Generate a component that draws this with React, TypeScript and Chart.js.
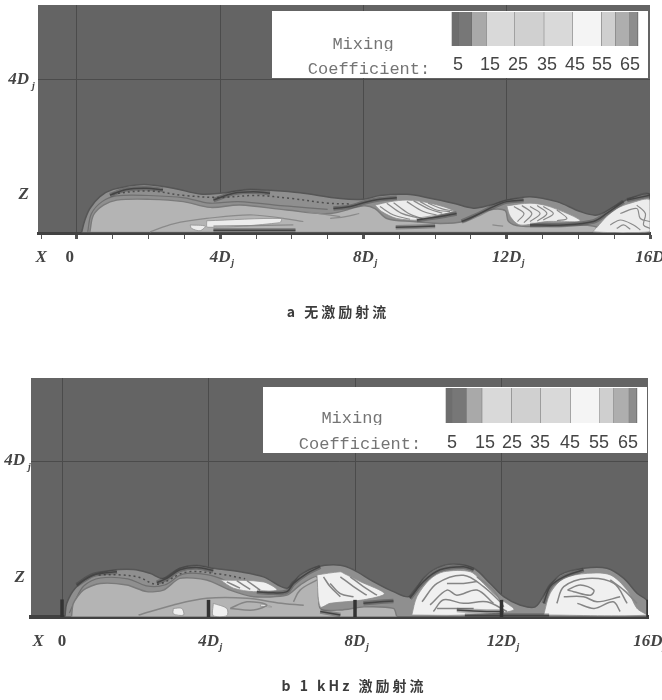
import React, { useEffect, useRef } from "react";
import { Chart, registerables } from "chart.js";

Chart.register(...registerables);

type Pt = [number, number];

// ---------- shared ----------
const legendLevels = ["5", "15", "25", "35", "45", "55", "65"];
const legendColors = ["#6e6e6e", "#777777", "#a9a9a9", "#d9d9d9", "#d0d0d0", "#d9d9d9", "#f4f4f4", "#cfcfcf", "#aeaeae", "#8d8d8d"];
const legendTitle = ["Mixing", "Coefficient:"];
const labeledTicks = [4, 8, 12, 16];
const gridAt = [0, 4, 8, 12];
const yTickValues = [1, 4];

// ---------- panel a ----------
const aCaption = "a 无激励射流";
const aTickValues = [-1, -0.2, 0, 1, 2, 3, 4, 5, 6, 7, 8, 9, 10, 11, 12, 13, 14, 15, 16];
const aEnvelope: Pt[] = [[0.13,0.02],[0.22,0.34],[0.36,0.64],[0.64,0.95],[1.01,1.14],[1.85,1.27],[2.69,1.17],[3.44,1.02],[3.99,1.04],[4.74,1.14],[5.48,1.11],[6.23,1.05],[7.35,0.9],[8,0.88],[8.46,0.98],[9.21,1.01],[9.86,0.91],[10.51,0.78],[11.07,0.65],[11.54,0.73],[12,0.86],[12.65,0.95],[13.4,0.82],[14.05,0.56],[14.52,0.47],[14.99,0.69],[15.45,0.91],[16,1],[16,0.02]];
const aCore: Pt[] = [[0.36,0.03],[0.46,0.47],[0.74,0.73],[1.11,0.86],[2.04,0.88],[2.97,0.82],[3.72,0.67],[4.55,0.73],[5.86,0.6],[7.07,0.51],[8,0.71],[8.32,0.64],[8.65,0.38],[9.39,0.3],[10.14,0.25],[10.79,0.3],[11.26,0.51],[11.63,0.62],[11.96,0.58],[12.05,0.3],[12.37,0.18],[13.4,0.18],[14.14,0.21],[14.52,0.15],[14.6,0.03]];
const aInnerEdge: Pt[] = [[0.3,0.03],[0.4,0.5],[0.7,0.82],[1.1,0.97],[2,0.98],[3,0.92],[3.7,0.78],[4.5,0.82],[5.9,0.7],[7,0.62]];
const aSpeckle: Pt[] = [[1,1.03],[2,1.1],[3,0.98],[4,0.93],[5,0.98],[6,0.9],[7,0.78],[7.6,0.76]];
const aLobes: Pt[][] = [
  [[8.32,0.73],[8.75,0.82],[9.21,0.86],[9.86,0.78],[10.51,0.58],[10.14,0.47],[9.58,0.34],[8.93,0.38],[8.51,0.56],[8.32,0.73]],
  [[12,0.71],[12.65,0.78],[13.2,0.69],[14.05,0.32],[13.12,0.3],[12.37,0.21],[12.1,0.43],[12,0.71]],
  [[14.52,0.15],[14.79,0.43],[15.07,0.64],[15.45,0.78],[16,0.86],[16,0.03],[14.42,0.03],[14.52,0.15]],
  [[3.62,0.32],[5.7,0.38],[5.66,0.27],[3.65,0.15],[3.62,0.32]],
  [[3.16,0.21],[3.58,0.18],[3.44,0.06],[3.2,0.12],[3.16,0.21]],
];
const aDarkBands: Pt[][] = [
  [[0.92,0.99],[1.38,1.14],[1.94,1.17],[2.4,1.13]],
  [[3.81,0.86],[4.37,1.04],[4.93,1.08],[5.39,1.04]],
  [[7.16,0.64],[7.63,0.69],[8,0.79],[8.46,0.88],[8.93,0.92]],
  [[10.74,0.3],[11.16,0.47],[11.63,0.69],[12,0.82],[12.47,0.86]],
  [[12.65,0.21],[13.58,0.21],[14.42,0.3],[14.79,0.51],[15.26,0.82]],
  [[9.49,0.34],[10.14,0.43],[10.6,0.51]],
  [[15.36,0.86],[16,0.99]],
  [[8.9,0.15],[10,0.18]],
  [[3.81,0.07],[6.1,0.07]],
];
const aContours: Pt[][] = [
  [[2.04,0.03],[2.69,0.24],[3.62,0.38],[4.93,0.47],[6.32,0.3]],
  [[3.81,0.18],[6.04,0.21]],
  [[6.4,0.56],[7.35,0.43]],
  [[7.07,0.38],[7.5,0.43],[7.88,0.51]],
  [[11.6,0.21],[11.9,0.18]],
  [[8.84,0.79],[9.26,0.51],[9.67,0.36]],
  [[9.21,0.82],[9.67,0.56],[10.04,0.47]],
  [[9.58,0.82],[10.04,0.6],[10.42,0.56]],
  [[8.46,0.69],[8.84,0.47],[9.3,0.36]],
  [[8.65,0.78],[9.05,0.52],[9.5,0.4]],
  [[9.4,0.84],[9.85,0.62],[10.2,0.52]],
  [[9.8,0.78],[10.2,0.63],[10.48,0.58]],
  [[12.2,0.69],[12.48,0.51],[12.3,0.3]],
  [[12.42,0.72],[12.7,0.51],[12.48,0.27]],
  [[12.65,0.69],[12.93,0.51],[12.65,0.3]],
  [[12.85,0.72],[13.12,0.51],[12.85,0.31]],
  [[13.02,0.69],[13.3,0.51],[13.02,0.34]],
  [[13.4,0.6],[13.68,0.38],[13.4,0.32]],
  [[14.89,0.21],[15.17,0.34],[15.54,0.21],[15.73,0.08]],
  [[15.07,0.12],[15.26,0.21],[15.45,0.1]],
  [[15.17,0.51],[15.63,0.64],[15.73,0.38],[16,0.3]],
  [[15.63,0.73],[15.87,0.51],[15.82,0.21],[16,0.12]],
];

// ---------- panel b ----------
const bCaption = "b 1 kHz 激励射流";
const bTickValues = [-0.65, 0, 4, 8, 12, 16];
const bEnvelope: Pt[] = [[0.08,0.01],[0.13,0.35],[0.36,0.74],[0.76,1.03],[1.31,1.19],[1.95,1.22],[2.4,1.12],[2.77,0.99],[3.22,1.25],[3.68,1.33],[4.13,1.25],[4.86,1.16],[5.5,1.03],[6.14,0.74],[6.5,1.08],[6.96,1.29],[7.6,1.33],[7.96,1.21],[8.5,0.91],[9.05,0.65],[9.5,0.53],[9.87,1],[10.24,1.26],[10.69,1.36],[11.24,1.25],[11.69,0.86],[12.06,0.52],[12.5,0.31],[12.92,0.26],[13.24,0.69],[13.6,1.08],[14.24,1.25],[14.88,1.25],[15.34,0.99],[15.7,0.61],[16,0.39],[16,0.01]];
const bCore: Pt[] = [[0.26,0.01],[0.31,0.35],[0.58,0.69],[1.04,0.86],[1.77,0.82],[2.31,0.65],[2.77,0.69],[3.22,0.99],[3.95,0.95],[4.59,0.69],[5.23,0.52],[6.14,0.56],[6.5,0.82],[6.96,1.03],[7.05,0.22],[7.6,0.18],[8.24,0.26],[9.05,0.22],[9.14,0.01]];
const bInnerEdge: Pt[] = [[0.2,0.1],[0.35,0.4],[0.6,0.8],[1.05,1],[1.8,0.98],[2.3,0.8],[2.8,0.82],[3.3,1.1],[4,1.08],[4.7,0.85]];
const bSpeckle: Pt[] = [[1,1.08],[1.6,1.08],[2.1,1.02],[2.6,0.84],[3.4,1.15],[4.3,1.1],[5,0.98]];
const bLobes: Pt[][] = [
  [[4.32,0.95],[5.5,0.9],[5.87,0.69],[5.23,0.65],[4.68,0.74],[4.32,0.95]],
  [[6.96,1.08],[7.6,1.16],[7.69,1.12],[8.14,0.91],[8.8,0.6],[8.23,0.44],[7.32,0.35],[7.05,0.26],[6.96,1.08]],
  [[9.55,0.05],[9.69,0.52],[10.05,0.97],[10.42,1.16],[11.15,1.16],[11.51,0.86],[11.88,0.52],[12.33,0.18],[10.96,0.05],[9.55,0.05]],
  [[13.15,0.05],[13.33,0.61],[13.7,0.99],[14.34,1.12],[14.97,1.08],[15.43,0.69],[15.7,0.22],[15.98,0.05],[13.15,0.05]],
  [[3.04,0.22],[3.27,0.22],[3.32,0.05],[3.04,0.08],[3.04,0.22]],
  [[4.13,0.35],[4.5,0.22],[4.5,0.03],[4.13,0.03],[4.13,0.35]],
  [[5.41,0.28],[5.73,0.26],[5.45,0.33],[5.41,0.28]],
];
const bDarkBands: Pt[][] = [
  [[0.4,0.82],[0.86,1.08],[1.5,1.16]],
  [[2.59,0.88],[2.86,0.99],[3.22,1.21],[3.68,1.27],[4.13,1.19]],
  [[5.32,0.65],[5.77,0.62],[6.14,0.65],[6.32,0.86],[6.69,1.12],[7.05,1.29]],
  [[8.23,0.35],[8.69,0.39],[9.05,0.41]],
  [[9.5,0.48],[9.87,0.91],[10.32,1.21],[10.96,1.29],[11.24,1.21]],
  [[13.15,0.35],[13.33,0.78],[13.7,1.03],[14.24,1.21]],
  [[10.78,0.18],[11.42,0.15],[12.06,0.14]],
  [[7.05,0.14],[7.6,0.05]],
  [[11,0.04],[13.3,0.04]],
];
const bContours: Pt[][] = [
  [[2.09,0.05],[3.04,0.31],[3.95,0.48],[5.05,0.48],[5.9,0.36],[6.6,0.3]],
  [[4.59,0.22],[5.05,0.39],[5.59,0.31],[5.23,0.18],[4.59,0.22]],
  [[6.32,0.39],[6.5,0.69],[6.96,0.95]],
  [[4.5,0.9],[4.86,0.74]],
  [[4.77,0.93],[5.14,0.71]],
  [[5.05,0.93],[5.41,0.69]],
  [[7.14,1.03],[7.32,0.78],[7.6,0.52]],
  [[7.32,0.86],[7.6,0.6],[7.96,0.52]],
  [[7.6,1.03],[7.96,0.78],[8.32,0.56]],
  [[7.87,1.03],[8.23,0.78],[8.6,0.56]],
  [[9.83,0.39],[10.24,0.86],[10.96,1.07],[11.51,0.78],[12.01,0.35]],
  [[10.05,0.31],[10.51,0.69],[10.78,0.56],[11.33,0.69],[11.78,0.35]],
  [[10.14,0.14],[10.42,0.44],[10.96,0.35],[11.6,0.39],[12.15,0.14]],
  [[10.24,0.22],[10.69,0.22],[11.24,0.22]],
  [[11.33,1.03],[11.78,0.69],[12.06,0.26]],
  [[10.51,0.86],[10.96,0.86],[11.33,0.91]],
  [[13.51,0.35],[13.7,0.78],[14.34,0.99],[15.07,0.86],[15.43,0.35]],
  [[13.7,0.52],[14.24,0.52],[14.61,0.39],[15.24,0.52]],
  [[13.8,0.69],[14.15,0.82],[14.52,0.69],[14.43,0.56],[13.97,0.65],[13.8,0.69]],
  [[14.07,0.35],[14.53,0.22],[15.05,0.39],[15.24,0.14]],
  [[14.97,0.95],[15.34,0.69],[15.7,0.35]],
];
const bStems: Pt[][] = [
  [[0,0],[0,0.45]],
  [[4,0],[4,0.44]],
  [[8,0],[8,0.44]],
  [[12,0],[12,0.44]],
  [[16,0],[16,0.44]],
];

const SERIF = "'Liberation Serif', serif";
const MONO = "'Liberation Mono', monospace";
const SANS = "'Liberation Sans', sans-serif";

function shape(points: Pt[], fill: string, edge: string, width: number, tension = 0.35) {
  return { data: points.map(([x, y]) => ({ x, y })), fill: "shape", backgroundColor: fill, borderColor: edge, borderWidth: width, tension, pointRadius: 0, showLine: true };
}
function stroke(points: Pt[], color: string, width: number, tension = 0.35, dash: number[] = []) {
  return { data: points.map(([x, y]) => ({ x, y })), fill: false, borderColor: color, borderWidth: width, borderDash: dash, tension, pointRadius: 0, showLine: true };
}
function darkBand(points: Pt[]) {
  return [stroke(points, "rgba(50,50,50,0.35)", 4.5), stroke(points, "#444444", 1.5)];
}

type Panel = {
  caption: string; captionX: number; captionY: number; captionSpacing: number;
  height: number; top: number;
  left: number; right: number; areaTop: number; areaBottom: number;
  xMin: number; zMax: number;
  ticks: number[]; zeroAt: number; crossAt: number; marks: boolean;
  yPad: number; axisWidth: number;
  box: number[]; bar: number[]; stops: number[]; labelX: number[]; labelY: number;
  titleX: number[]; titleY: number[]; titleClip: number[];
  layers: any[];
};

const panels: Panel[] = [
  {
    caption: aCaption, captionX: 338, captionY: 312, captionSpacing: 3,
    height: 340, top: 0, left: 38, right: 650, areaTop: 5, areaBottom: 233,
    xMin: -1.089, zMax: 5.96, ticks: aTickValues, zeroAt: -0.2, crossAt: -1, marks: true, yPad: 9, axisWidth: 3,
    box: [272, 11, 648, 78], bar: [451.7, 12, 637.7, 46],
    stops: [451.7, 459, 472, 486.7, 515, 544.3, 572.7, 601.7, 615.7, 630, 637.7],
    labelX: [458, 490, 518, 547, 575, 602, 630], labelY: 65,
    titleX: [363, 369], titleY: [44, 69], titleClip: [51, 78],
    layers: [
      shape(aEnvelope, "#8f8f8f", "#565656", 1.5),
      stroke(aSpeckle, "#4e4e4e", 1.5, 0.35, [2, 3]),
      stroke(aInnerEdge, "#6f6f6f", 1.2),
      shape(aCore, "#b4b4b4", "#7a7a7a", 1.4),
      ...aLobes.map((l) => shape(l, "#ececec", "#8f8f8f", 0.8, 0.3)),
      ...aContours.map((l) => stroke(l, "#8a8a8a", 1.2)),
      ...aDarkBands.flatMap(darkBand),
    ],
  },
  {
    caption: bCaption, captionX: 354, captionY: 346, captionSpacing: 3,
    height: 360, top: 340, left: 31, right: 648, areaTop: 38, areaBottom: 277,
    xMin: -0.847, zMax: 6.13, ticks: bTickValues, zeroAt: 0, crossAt: -0.65, marks: false, yPad: 6, axisWidth: 4,
    box: [263, 47, 647, 113], bar: [445.7, 48, 636.7, 83],
    stops: [445.7, 452.7, 466.7, 482.3, 511.7, 541, 570.7, 600, 614, 629.3, 636.7],
    labelX: [452, 485, 512, 540, 570, 599, 628], labelY: 103,
    titleX: [352, 360], titleY: [78, 104], titleClip: [85, 113],
    layers: [
      shape(bEnvelope, "#8f8f8f", "#565656", 1.5),
      stroke(bSpeckle, "#4e4e4e", 1.5, 0.35, [2, 3]),
      stroke(bInnerEdge, "#6f6f6f", 1.2),
      shape(bCore, "#b4b4b4", "#7a7a7a", 1.4, 0.25),
      ...bLobes.map((l) => shape(l, "#f0f0f0", "#8f8f8f", 0.8, 0.3)),
      ...bContours.map((l) => stroke(l, "#858585", 1.5)),
      ...bDarkBands.flatMap(darkBand),
      ...bStems.map((l) => stroke(l, "#333333", 3.5, 0)),
    ],
  },
];

function makePlugin(p: Panel) {
  return {
    id: "panelDecor",
    beforeDraw(chart: any) {
      const { ctx, chartArea: a } = chart;
      ctx.save();
      ctx.fillStyle = "#646464";
      ctx.fillRect(a.left, a.top, a.right - a.left, a.bottom - a.top);
      ctx.restore();
    },
    afterDraw(chart: any) {
      const { ctx } = chart;
      ctx.save();
      // legend box
      const [bx0, by0, bx1, by1] = p.box;
      ctx.fillStyle = "#ffffff";
      ctx.fillRect(bx0, by0, bx1 - bx0, by1 - by0);
      const [, y0, , y1] = p.bar;
      legendColors.forEach((c, i) => {
        ctx.fillStyle = c;
        ctx.fillRect(p.stops[i], y0, p.stops[i + 1] - p.stops[i], y1 - y0);
        ctx.fillStyle = "#6a6a6a";
        ctx.fillRect(p.stops[i + 1] - 0.5, y0, 1, y1 - y0);
      });
      ctx.textAlign = "center";
      ctx.textBaseline = "middle";
      ctx.fillStyle = "#454545";
      ctx.font = `18px ${SANS}`;
      legendLevels.forEach((t, i) => ctx.fillText(t, p.labelX[i], p.labelY));
      ctx.fillStyle = "#747474";
      ctx.font = `17px ${MONO}`;
      legendTitle.forEach((t, i) => {
        ctx.save();
        ctx.beginPath();
        ctx.rect(bx0, by0, bx1 - bx0, p.titleClip[i] - by0);
        ctx.clip();
        ctx.fillText(t, p.titleX[i], p.titleY[i]);
        ctx.restore();
      });
      // subscript j on the D labels
      const xs = chart.scales.x;
      const ys = chart.scales.y;
      ctx.fillStyle = "#444444";
      ctx.font = `italic bold 10px ${SERIF}`;
      ctx.textAlign = "left";
      labeledTicks.forEach((v) => ctx.fillText("j", xs.getPixelForValue(v) + (v > 9 ? 15 : 11), p.areaBottom + 30));
      ctx.fillText("j", p.left - p.yPad + 3, ys.getPixelForValue(4) + 6);
      // caption
      ctx.fillStyle = "#3c3c3c";
      ctx.textAlign = "center";
      ctx.font = `bold 14px 'Noto Sans CJK SC', sans-serif`;
      (ctx as any).letterSpacing = `${p.captionSpacing}px`;
      ctx.fillText(p.caption, p.captionX, p.captionY);
      ctx.restore();
    },
  };
}

function PanelChart({ p }: { p: Panel }) {
  const ref = useRef<HTMLCanvasElement>(null);
  useEffect(() => {
    if (!ref.current) return;
    const n = p.layers.length;
    const labelOf = (v: number) => {
      if (v === p.crossAt) return "X";
      if (v === p.zeroAt) return "0";
      return labeledTicks.includes(v) ? `${v}D` : "";
    };
    const chart = new Chart(ref.current, {
      type: "scatter",
      data: { datasets: p.layers.map((d, i) => ({ ...d, order: n - i })) },
      plugins: [makePlugin(p)],
      options: {
        animation: false,
        responsive: false,
        layout: { padding: { top: p.areaTop, right: 662 - p.right, left: 0, bottom: 0 } },
        plugins: { legend: { display: false }, tooltip: { enabled: false } },
        scales: {
          x: {
            type: "linear", min: p.xMin, max: 16,
            afterBuildTicks: (s: any) => { s.ticks = p.ticks.map((value) => ({ value })); },
            afterFit: (s: any) => { s.height = p.height - p.areaBottom; s.paddingLeft = 0; s.paddingRight = 0; },
            border: { display: true, color: "#414141", width: p.axisWidth },
            grid: {
              drawOnChartArea: true, drawTicks: true, tickLength: 6,
              color: (c: any) => (gridAt.includes(c.tick?.value) ? "#4b4b4b" : "rgba(0,0,0,0)"),
              lineWidth: 1,
              tickColor: (c: any) => (p.marks && Number.isInteger(c.tick?.value) ? "#555555" : "rgba(0,0,0,0)"),
              tickWidth: (c: any) => (c.tick?.value % 4 === 0 ? 3 : 1),
            },
            ticks: {
              autoSkip: false, maxRotation: 0, minRotation: 0, padding: 8, color: "#444444",
              callback: (v: any) => labelOf(Number(v)),
              font: (c: any) => ({ family: SERIF, size: 17, weight: "bold", style: c.tick?.value === p.zeroAt ? "normal" : "italic" }),
            },
          },
          y: {
            type: "linear", min: 0, max: p.zMax,
            afterBuildTicks: (s: any) => { s.ticks = yTickValues.map((value) => ({ value })); },
            afterFit: (s: any) => { s.width = p.left; s.paddingTop = 0; s.paddingBottom = 0; },
            border: { display: false },
            grid: {
              drawTicks: false,
              color: (c: any) => (c.tick?.value === 4 ? "#4b4b4b" : "rgba(0,0,0,0)"),
            },
            ticks: {
              autoSkip: false, padding: p.yPad, color: "#444444",
              callback: (v: any) => (Number(v) === 1 ? "Z" : "4D"),
              font: { family: SERIF, size: 17, weight: "bold", style: "italic" },
            },
          },
        },
      },
    } as any);
    return () => chart.destroy();
  }, [p]);
  return (
    <canvas
      ref={ref}
      width={662}
      height={p.height}
      style={{ position: "absolute", left: 0, top: p.top, width: 662, height: p.height, display: "block", filter: "blur(0.6px)" }}
    />
  );
}

export default function App() {
  return (
    <div style={{ position: "fixed", left: 0, top: 0, width: 662, height: 700, background: "#fff", overflow: "hidden" }}>
      {panels.map((p) => (
        <PanelChart key={p.caption} p={p} />
      ))}
    </div>
  );
}
